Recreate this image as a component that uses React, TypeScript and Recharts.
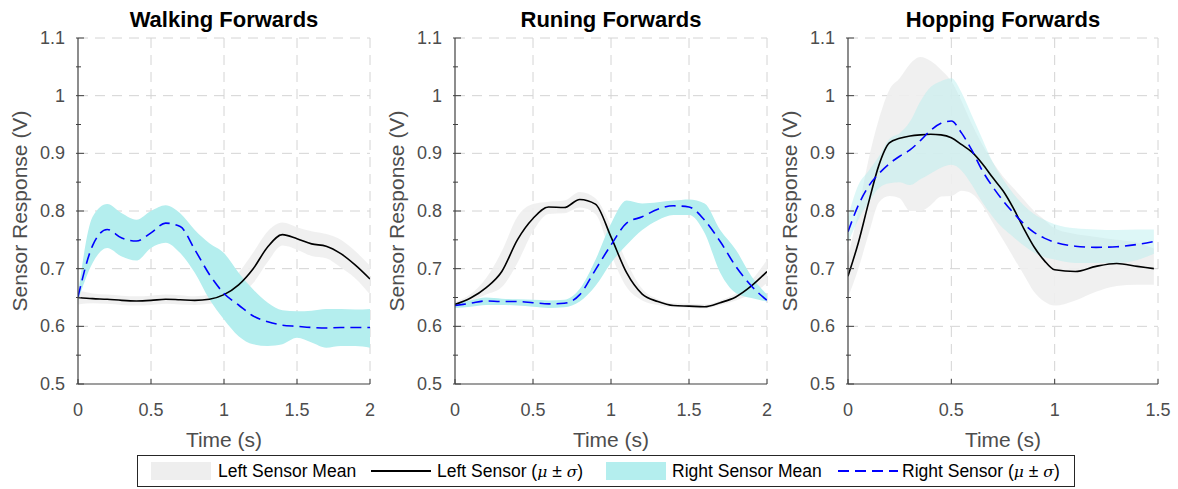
import React from "react";
import { ComposedChart, Area, Line, XAxis, YAxis, CartesianGrid } from "recharts";

// Walking forwards (s, V)
const walkTime = [0, 0.1, 0.2, 0.3, 0.4, 0.5, 0.6, 0.7, 0.8, 0.9, 1, 1.1, 1.2, 1.3, 1.4, 1.5, 1.6, 1.7, 1.8, 1.9, 2];
const walkLeft = [0.650, 0.648, 0.647, 0.645, 0.644, 0.645, 0.647, 0.646, 0.645, 0.647, 0.655, 0.672, 0.700, 0.738, 0.759, 0.752, 0.743, 0.739, 0.726, 0.706, 0.682];
const walkLeftLo = [0.638, 0.640, 0.639, 0.637, 0.636, 0.637, 0.639, 0.638, 0.637, 0.639, 0.643, 0.652, 0.675, 0.712, 0.740, 0.733, 0.722, 0.718, 0.702, 0.683, 0.655];
const walkLeftHi = [0.662, 0.657, 0.655, 0.653, 0.652, 0.653, 0.655, 0.654, 0.652, 0.655, 0.668, 0.693, 0.728, 0.765, 0.780, 0.772, 0.765, 0.760, 0.750, 0.730, 0.705];
const walkRight = [0.651, 0.740, 0.768, 0.753, 0.748, 0.762, 0.779, 0.773, 0.733, 0.690, 0.657, 0.637, 0.618, 0.608, 0.602, 0.600, 0.598, 0.597, 0.598, 0.598, 0.598];
const walkRightLo = [0.645, 0.710, 0.736, 0.721, 0.714, 0.736, 0.745, 0.727, 0.693, 0.647, 0.612, 0.583, 0.569, 0.566, 0.569, 0.580, 0.572, 0.563, 0.566, 0.566, 0.563];
const walkRightHi = [0.655, 0.790, 0.812, 0.796, 0.785, 0.800, 0.810, 0.796, 0.767, 0.744, 0.727, 0.693, 0.664, 0.641, 0.628, 0.626, 0.627, 0.630, 0.630, 0.629, 0.630];

// Running forwards
const runTime = [0, 0.1, 0.2, 0.3, 0.4, 0.5, 0.6, 0.7, 0.8, 0.9, 1, 1.1, 1.2, 1.3, 1.4, 1.5, 1.6, 1.7, 1.8, 1.9, 2];
const runLeft = [0.638, 0.649, 0.667, 0.695, 0.750, 0.787, 0.807, 0.806, 0.820, 0.812, 0.755, 0.693, 0.656, 0.643, 0.636, 0.635, 0.634, 0.641, 0.651, 0.670, 0.695];
const runLeftLo = [0.634, 0.643, 0.655, 0.668, 0.710, 0.765, 0.795, 0.796, 0.806, 0.795, 0.725, 0.668, 0.645, 0.637, 0.633, 0.632, 0.631, 0.637, 0.645, 0.656, 0.675];
const runLeftHi = [0.642, 0.656, 0.684, 0.730, 0.790, 0.812, 0.816, 0.818, 0.833, 0.822, 0.775, 0.712, 0.665, 0.647, 0.640, 0.639, 0.638, 0.645, 0.657, 0.680, 0.715];
const runRight = [0.636, 0.640, 0.644, 0.643, 0.643, 0.641, 0.639, 0.640, 0.655, 0.698, 0.741, 0.779, 0.790, 0.803, 0.809, 0.807, 0.784, 0.747, 0.704, 0.670, 0.645];
const runRightLo = [0.632, 0.634, 0.637, 0.637, 0.636, 0.634, 0.632, 0.633, 0.643, 0.670, 0.710, 0.741, 0.767, 0.784, 0.793, 0.793, 0.762, 0.693, 0.658, 0.649, 0.643];
const runRightHi = [0.640, 0.645, 0.650, 0.648, 0.647, 0.646, 0.645, 0.646, 0.665, 0.715, 0.778, 0.818, 0.813, 0.815, 0.818, 0.820, 0.813, 0.767, 0.733, 0.687, 0.655];

// Hopping forwards
const hopTime = [0, 0.05, 0.1, 0.15, 0.2, 0.25, 0.3, 0.35, 0.4, 0.45, 0.5, 0.55, 0.6, 0.65, 0.7, 0.75, 0.8, 0.85, 0.9, 0.95, 1, 1.1, 1.2, 1.3, 1.4, 1.48];
const hopLeft = [0.687, 0.745, 0.815, 0.880, 0.918, 0.926, 0.930, 0.932, 0.933, 0.932, 0.927, 0.915, 0.902, 0.882, 0.858, 0.835, 0.805, 0.770, 0.738, 0.714, 0.698, 0.695, 0.704, 0.709, 0.704, 0.700];
const hopLeftLo = [0.650, 0.700, 0.760, 0.815, 0.826, 0.822, 0.800, 0.800, 0.810, 0.825, 0.826, 0.835, 0.830, 0.810, 0.780, 0.750, 0.720, 0.690, 0.660, 0.643, 0.636, 0.645, 0.660, 0.670, 0.672, 0.672];
const hopLeftHi = [0.720, 0.800, 0.890, 0.960, 1.010, 1.030, 1.055, 1.067, 1.060, 1.045, 1.025, 0.990, 0.950, 0.915, 0.885, 0.860, 0.840, 0.820, 0.800, 0.785, 0.770, 0.760, 0.755, 0.750, 0.745, 0.735];
const hopRight = [0.764, 0.810, 0.843, 0.865, 0.882, 0.895, 0.906, 0.922, 0.940, 0.952, 0.956, 0.935, 0.905, 0.870, 0.842, 0.818, 0.797, 0.778, 0.763, 0.753, 0.746, 0.739, 0.737, 0.738, 0.742, 0.747];
const hopRightLo = [0.745, 0.785, 0.815, 0.840, 0.848, 0.850, 0.845, 0.855, 0.865, 0.875, 0.880, 0.870, 0.845, 0.815, 0.790, 0.770, 0.755, 0.740, 0.728, 0.720, 0.716, 0.710, 0.710, 0.710, 0.715, 0.726];
const hopRightHi = [0.790, 0.845, 0.870, 0.895, 0.925, 0.935, 0.955, 0.990, 1.015, 1.025, 1.030, 1.005, 0.965, 0.925, 0.885, 0.855, 0.830, 0.810, 0.795, 0.785, 0.777, 0.770, 0.768, 0.767, 0.768, 0.768];

const yTicks = [0.5, 0.55, 0.6, 0.65, 0.7, 0.75, 0.8, 0.85, 0.9, 0.95, 1, 1.05, 1.1];
const yGrid = [0.6, 0.7, 0.8, 0.9, 1, 1.1];
const twoSecTicks = [0, 0.5, 1, 1.5, 2];
const hopTicks = [0, 0.5, 1, 1.5];

const FONT = '"Liberation Sans", Arial, Helvetica, sans-serif';
const AXIS = "#404040";
const TICK_TEXT = "#4d4d4d";
const GRAY_BAND = "#eeeeee";
const CYAN_BAND = "#b4eeee";

function buildRows(t: number[], l: number[], lLo: number[], lHi: number[], r: number[], rLo: number[], rHi: number[]) {
  return t.map((time, i) => ({
    time,
    left: l[i],
    leftBand: [lLo[i], lHi[i]],
    right: r[i],
    rightBand: [rLo[i], rHi[i]],
  }));
}

// eslint-disable-next-line @typescript-eslint/no-explicit-any
const YTick = (props: any) => {
  const { x, y, payload } = props;
  const v = payload.value;
  const major = Math.abs(v * 10 - Math.round(v * 10)) < 1e-6;
  return (
    <g>
      <line x1={x - 2} x2={x + (major ? 6 : 3)} y1={y} y2={y} stroke={AXIS} strokeWidth={1} />
      {major && (
        <text x={x - 13} y={y} textAnchor="end" dominantBaseline="central" fill={TICK_TEXT} fontSize={18} fontFamily={FONT}>
          {String(v)}
        </text>
      )}
    </g>
  );
};

// eslint-disable-next-line @typescript-eslint/no-explicit-any
const XTick = (props: any) => {
  const { x, y, payload } = props;
  return (
    <g>
      <line x1={x} x2={x} y1={y} y2={y - 5} stroke={AXIS} strokeWidth={1} />
      <text x={x} y={y + 26} textAnchor="middle" dominantBaseline="central" fill={TICK_TEXT} fontSize={18} fontFamily={FONT}>
        {String(payload.value)}
      </text>
    </g>
  );
};

interface PanelProps {
  title: string;
  left: number;
  width: number;
  xMax: number;
  xTicks: number[];
  rows: ReturnType<typeof buildRows>;
  cyanOpacity: number;
}

function Panel({ title, left, width, xMax, xTicks, rows, cyanOpacity }: PanelProps) {
  const yAxisW = 78;
  const plotW = width - yAxisW - 20;
  const centerX = yAxisW + plotW / 2;
  return (
    <div style={{ position: "absolute", left, top: 0, width, height: 430 }}>
      <ComposedChart width={width} height={430} data={rows} margin={{ top: 38, right: 20, bottom: 16, left: 0 }}>
        <CartesianGrid
          stroke="#d4d4d4"
          strokeDasharray="10 7"
          horizontalValues={yGrid}
          verticalValues={xTicks.filter((v) => v > 0)}
        />
        <XAxis
          dataKey="time"
          type="number"
          domain={[0, xMax]}
          ticks={xTicks}
          interval={0}
          height={30}
          tickSize={0}
          tickMargin={0}
          tickLine={false}
          axisLine={{ stroke: AXIS, strokeWidth: 1.2 }}
          tick={XTick}
          allowDataOverflow
        />
        <YAxis
          type="number"
          domain={[0.5, 1.1]}
          ticks={yTicks}
          interval={0}
          width={yAxisW}
          tickSize={0}
          tickMargin={0}
          tickLine={false}
          axisLine={{ stroke: AXIS, strokeWidth: 1.2 }}
          tick={YTick}
          allowDataOverflow
        />
        <Area dataKey="leftBand" type="monotone" stroke="none" fill={GRAY_BAND} fillOpacity={0.9} isAnimationActive={false} activeDot={false} />
        <Area dataKey="rightBand" type="monotone" stroke="none" fill={CYAN_BAND} fillOpacity={cyanOpacity} isAnimationActive={false} activeDot={false} />
        <Line dataKey="left" type="monotone" stroke="#000000" strokeWidth={1.6} dot={false} activeDot={false} isAnimationActive={false} />
        <Line dataKey="right" type="monotone" stroke="#0000ff" strokeWidth={1.6} strokeDasharray="11 6" dot={false} activeDot={false} isAnimationActive={false} />
      </ComposedChart>
      <div style={{ position: "absolute", left: centerX - 150, top: 8, width: 300, textAlign: "center", lineHeight: "24px", fontFamily: FONT, fontWeight: 700, fontSize: 22, color: "#000" }}>
        {title}
      </div>
      <div style={{ position: "absolute", left: centerX - 100, top: 428, width: 200, textAlign: "center", lineHeight: "24px", fontFamily: FONT, fontSize: 21, color: TICK_TEXT }}>
        Time (s)
      </div>
      <div
        style={{
          position: "absolute",
          left: 20,
          top: 211,
          width: 300,
          textAlign: "center",
          lineHeight: "24px",
          fontFamily: FONT,
          fontSize: 21,
          color: TICK_TEXT,
          transform: "translate(-50%, -50%) rotate(-90deg)",
          whiteSpace: "nowrap",
        }}
      >
        Sensor Response (V)
      </div>
    </div>
  );
}

const legendText: React.CSSProperties = {
  position: "absolute",
  top: 459,
  lineHeight: "24px",
  fontFamily: FONT,
  fontSize: 17.5,
  color: "#000",
  whiteSpace: "nowrap",
};
const mathSym: React.CSSProperties = { fontFamily: '"DejaVu Serif", serif', fontStyle: "italic", fontSize: 15.5 };

export default function App() {
  const walkRows = buildRows(walkTime, walkLeft, walkLeftLo, walkLeftHi, walkRight, walkRightLo, walkRightHi);
  const runRows = buildRows(runTime, runLeft, runLeftLo, runLeftHi, runRight, runRightLo, runRightHi);
  const hopRows = buildRows(hopTime, hopLeft, hopLeftLo, hopLeftHi, hopRight, hopRightLo, hopRightHi);

  return (
    <div style={{ position: "absolute", left: 0, top: 0, width: 1178, height: 489, background: "#fff", overflow: "hidden" }}>
      <Panel title="Walking Forwards" left={0} width={390} xMax={2} xTicks={twoSecTicks} rows={walkRows} cyanOpacity={1} />
      <Panel title="Runing Forwards" left={377} width={410} xMax={2} xTicks={twoSecTicks} rows={runRows} cyanOpacity={1} />
      <Panel title="Hopping Forwards" left={770} width={408} xMax={1.5} xTicks={hopTicks} rows={hopRows} cyanOpacity={0.45} />

      <div style={{ position: "absolute", left: 137, top: 455, width: 938, height: 32, border: "1.5px solid #262626", boxSizing: "border-box", background: "#fff" }} />
      <div style={{ position: "absolute", left: 151, top: 462, width: 60, height: 18, background: GRAY_BAND }} />
      <div style={{ ...legendText, left: 218 }}>Left Sensor Mean</div>
      <svg style={{ position: "absolute", left: 371, top: 465 }} width={60} height={12}>
        <line x1={0} x2={60} y1={6} y2={6} stroke="#000" strokeWidth={2} />
      </svg>
      <div style={{ ...legendText, left: 437 }}>
        Left Sensor (<span style={mathSym}>μ</span> ± <span style={mathSym}>σ</span>)
      </div>
      <div style={{ position: "absolute", left: 606, top: 462, width: 60, height: 18, background: CYAN_BAND }} />
      <div style={{ ...legendText, left: 672 }}>Right Sensor Mean</div>
      <svg style={{ position: "absolute", left: 838, top: 465 }} width={60} height={12}>
        <line x1={0} x2={60} y1={6} y2={6} stroke="#0000ff" strokeWidth={2} strokeDasharray="11 6" />
      </svg>
      <div style={{ ...legendText, left: 902 }}>
        Right Sensor (<span style={mathSym}>μ</span> ± <span style={mathSym}>σ</span>)
      </div>
    </div>
  );
}
